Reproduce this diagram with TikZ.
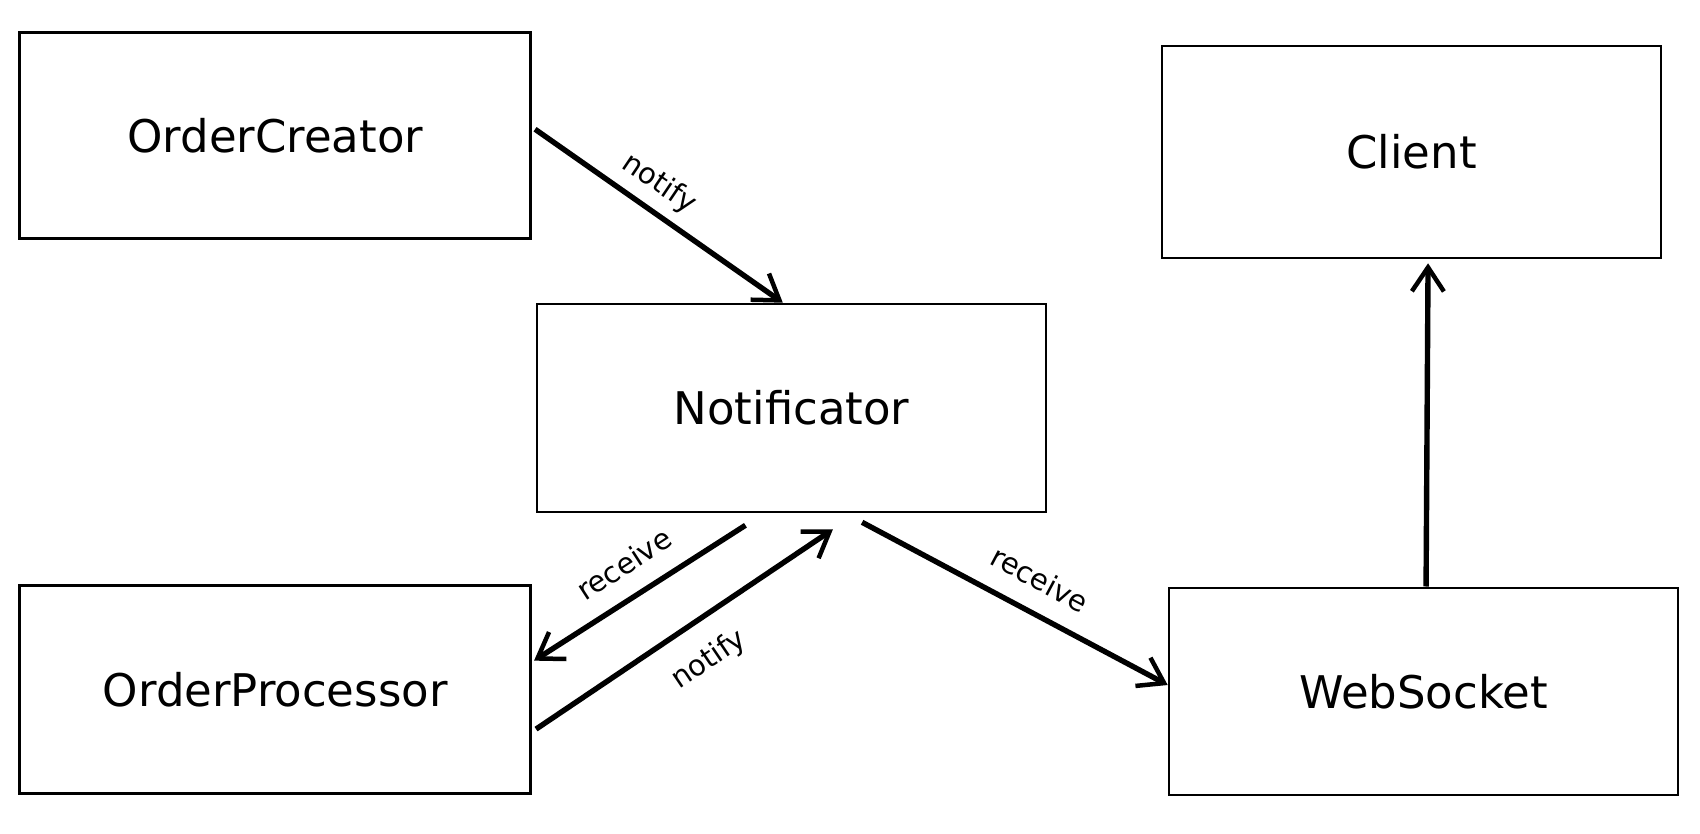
\documentclass[tikz,border=0pt]{standalone}
\usepackage{fontspec}
\setmainfont{DejaVu Sans}
\usetikzlibrary{arrows.meta,calc}
\tikzset{
  box/.style={draw=black, line width=2.6pt, rectangle, inner sep=0pt,
    font=\fontsize{45}{48}\selectfont},
  conn/.style={line width=5.4pt, -{Straight Barb[length=24pt,width=32pt,line width=4.5pt]}},
  lbl/.style={font=\fontsize{29}{31}\selectfont, inner sep=0pt}
}
\begin{document}
\begin{tikzpicture}[x=1pt,y=-1pt]
\useasboundingbox (0,0) rectangle (1700,834);
\fill[white] (0,0) rectangle (1700,834);

\node[box, minimum width=511pt, minimum height=206pt] (oc) at (275.25,135.5) {OrderCreator};
\node[box, minimum width=499pt, minimum height=212pt] (cl) at (1411.5,152) {Client};
\node[box, minimum width=509pt, minimum height=208pt] (nt) at (791.5,408) {Notificator};
\node[box, minimum width=511pt, minimum height=208pt] (op) at (275.25,689.5) {OrderProcessor};
\node[box, minimum width=509pt, minimum height=207pt] (ws) at (1423.5,691.3) {WebSocket};

\coordinate (ocA) at ($(oc.north east)!0.47!(oc.south east)$);
\coordinate (ntTop) at ($(nt.north west)!0.483!(nt.north east)$);
\coordinate (ntB1) at ($(nt.south west)!0.41!(nt.south east)$);
\coordinate (ntB2) at ($(nt.south west)!0.581!(nt.south east)$);
\coordinate (ntB3) at ($(nt.south west)!0.638!(nt.south east)$);
\coordinate (opIn) at ($(op.north east)!0.363!(op.south east)$);
\coordinate (opOut) at ($(op.north east)!0.688!(op.south east)$);
\coordinate (wsIn) at ($(ws.north west)!0.47!(ws.south west)$);
\coordinate (wsTop) at ($(ws.north west)!0.505!(ws.north east)$);
\coordinate (clBot) at ($(cl.south west)!0.533!(cl.south east)$);

\draw[conn] ([xshift=3pt]ocA) -- (ntTop);
\draw[conn] ([yshift=-12pt]ntB1) -- ([xshift=2pt]opIn);
\draw[conn] ([xshift=4pt]opOut) -- ([yshift=-16pt]ntB2);
\draw[conn] ([yshift=-9pt]ntB3) -- (wsIn);
\draw[conn] (wsTop) -- ([yshift=-4pt]clBot);

\node[lbl, rotate=-34] (l1) at (659,184) {notify};
\node[lbl, rotate=33] (l2) at (624,564) {receive};
\node[lbl, rotate=34] (l3) at (709,660) {notify};
\node[lbl, rotate=-28] (l4) at (1040,579) {receive};
\end{tikzpicture}
\end{document}
